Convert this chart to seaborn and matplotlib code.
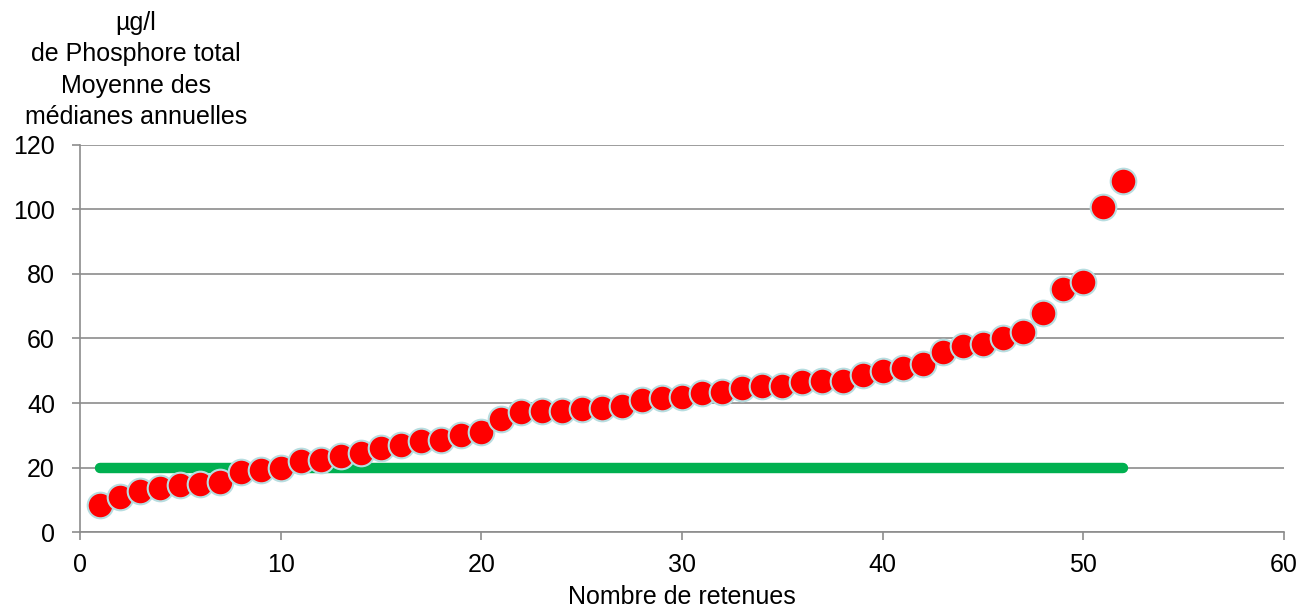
import numpy as np
import pandas as pd
import matplotlib
matplotlib.use("Agg")
import matplotlib.pyplot as plt
import seaborn as sns

# Data
retenues = list(range(1, 53))
phosphore = [8.4, 10.9, 12.7, 13.6, 14.6, 14.9, 15.5, 18.6, 19.2, 19.8,
             22.0, 22.3, 23.6, 24.5, 26.0, 27.0, 28.2, 28.5, 30.1, 31.0,
             35.0, 37.2, 37.5, 37.5, 38.1, 38.4, 39.1, 40.9, 41.5, 41.9,
             43.1, 43.4, 44.7, 45.3, 45.3, 46.5, 46.8, 46.8, 48.7, 49.9,
             50.9, 52.1, 55.8, 57.7, 58.3, 60.2, 62.0, 67.9, 75.3, 77.5,
             100.8, 108.8]
seuil_x = [1, 52]
seuil_y = [20, 20]

df = pd.DataFrame({"retenue": retenues, "phosphore": phosphore})
df_seuil = pd.DataFrame({"x": seuil_x, "y": seuil_y})

sns.set_style("white")
plt.rcParams['font.family'] = ['Liberation Sans', 'DejaVu Sans']
plt.rcParams['text.color'] = 'black'
plt.rcParams['xtick.labelcolor'] = 'black'
plt.rcParams['ytick.labelcolor'] = 'black'

fig = plt.figure(figsize=(13.07, 6.13), dpi=100)
ax = fig.add_axes([0.0612, 0.1321, 0.9212, 0.6314])

sns.lineplot(data=df_seuil, x="x", y="y", color="#00b050", linewidth=7.5,
             solid_capstyle="round", ax=ax, zorder=2)
sns.scatterplot(data=df, x="retenue", y="phosphore", color="#ff0000", s=340,
                edgecolor="#b7dde0", linewidth=1.5, ax=ax, zorder=3)

ax.set_xlim(0, 60)
ax.set_ylim(0, 120)
ax.set_xticks(range(0, 61, 10))
ax.set_yticks(range(0, 121, 20))
ax.yaxis.grid(True, color="#8c8c8c", linewidth=1.2)
ax.set_axisbelow(True)
for side in ["top", "right"]:
    ax.spines[side].set_visible(False)
for side in ["left", "bottom"]:
    ax.spines[side].set_color("#8c8c8c")
    ax.spines[side].set_linewidth(1.2)
ax.tick_params(axis="both", which="major", labelsize=18, length=6,
               width=1.2, color="#8c8c8c", direction="out",
               bottom=True, left=True)
ax.tick_params(axis="x", pad=9)
ax.tick_params(axis="y", pad=12)

ax.set_xlabel("Nombre de retenues", fontsize=18, labelpad=6, color="black")
ax.set_ylabel("")
fig.text(0.104, 0.79, "µg/l\nde Phosphore total\nMoyenne des\nmédianes annuelles",
         ha="center", va="bottom", fontsize=18, linespacing=1.38)

fig.savefig("out.png", dpi=100)
